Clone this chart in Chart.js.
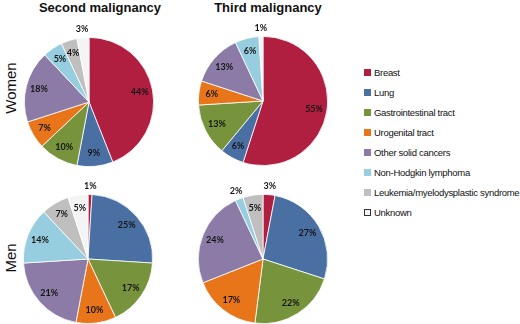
<!DOCTYPE html>
<html>
<head>
<meta charset="utf-8">
<script src="https://cdn.jsdelivr.net/npm/chart.js@4.4.1/dist/chart.umd.min.js"></script>
<style>
  body { margin: 0; background: #fff; font-family: "Liberation Sans", Arial, sans-serif; }
  #wrap { position: relative; width: 520px; height: 324px; overflow: hidden; }
  canvas { position: absolute; }
  .title { position: absolute; top: 0; font-size: 13px; font-weight: bold; color: #111; white-space: nowrap; transform: translateX(-50%); }
  .row { position: absolute; font-size: 15px; color: #111; transform: translate(-50%, -50%) rotate(-90deg); white-space: nowrap; }
  #legend { position: absolute; left: 364px; top: 66px; font-size: 9.5px; letter-spacing: -0.3px; color: #111; }
  #legend div { height: 20px; line-height: 14px; white-space: nowrap; }
  #legend span { display: inline-block; width: 7px; height: 7px; margin-right: 3px; vertical-align: 0px; box-sizing: border-box; }
</style>
</head>
<body>
<div id="wrap">
  <div class="title" style="left:100px">Second malignancy</div>
  <div class="title" style="left:268px">Third malignancy</div>
  <div class="row" style="left:10px; top:88px">Women</div>
  <div class="row" style="left:10px; top:258px">Men</div>
  <canvas id="w2" width="170" height="170" style="left:4px; top:17px"></canvas>
  <canvas id="w3" width="170" height="170" style="left:178px; top:16px"></canvas>
  <canvas id="m2" width="170" height="170" style="left:3px; top:174px"></canvas>
  <canvas id="m3" width="170" height="170" style="left:178px; top:174px"></canvas>
  <div id="legend"></div>
</div>
<script>
  // categorias (ordem horaria a partir do topo)
  const categorias = ['Breast', 'Lung', 'Gastrointestinal tract', 'Urogenital tract',
    'Other solid cancers', 'Non-Hodgkin lymphoma', 'Leukemia/myelodysplastic syndrome', 'Unknown'];
  const cores = ['#B01F40', '#4A6FA3', '#77933C', '#E8751A', '#8B7BA6', '#96CEDF', '#BFBFBF', '#F4F4F4'];

  // porcentagens
  const mulheresSegunda = [44, 9, 10, 7, 18, 5, 4, 3];
  const mulheresTerceira = [55, 6, 13, 6, 13, 6, 0, 1];
  const homensSegunda = [1, 25, 17, 10, 21, 14, 7, 5];
  const homensTerceira = [3, 27, 22, 17, 24, 2, 5, 0];

  // rotulos de porcentagem (pequenos ficam fora da pizza)
  const rotulos = {
    id: 'rotulos',
    afterDatasetsDraw(chart) {
      const ctx = chart.ctx;
      const valores = chart.data.datasets[0].data;
      ctx.save();
      ctx.font = 'bold 9px Lato, "Liberation Sans", sans-serif';
      ctx.fillStyle = '#151515';
      ctx.textAlign = 'center';
      ctx.textBaseline = 'middle';
      chart.getDatasetMeta(0).data.forEach((arc, i) => {
        const v = valores[i];
        if (!v) return;
        const p = arc.getProps(['x', 'y', 'startAngle', 'endAngle', 'outerRadius'], true);
        const meio = (p.startAngle + p.endAngle) / 2;
        const r = v <= 3 ? p.outerRadius * 1.13 : p.outerRadius * 0.8;
        ctx.fillText(v + '%', p.x + Math.cos(meio) * r, p.y + Math.sin(meio) * r);
      });
      ctx.restore();
    }
  };

  function desenhaPizza(id, valores) {
    new Chart(document.getElementById(id), {
      type: 'pie',
      data: {
        labels: categorias,
        datasets: [{
          data: valores,
          backgroundColor: cores,
          borderColor: '#ffffff',
          borderWidth: 0.8
        }]
      },
      options: {
        responsive: false,
        animation: false,
        layout: { padding: 20 },
        plugins: { legend: { display: false }, tooltip: { enabled: false } }
      },
      plugins: [rotulos]
    });
  }

  desenhaPizza('w2', mulheresSegunda);
  desenhaPizza('w3', mulheresTerceira);
  desenhaPizza('m2', homensSegunda);
  desenhaPizza('m3', homensTerceira);

  // legenda
  const legenda = document.getElementById('legend');
  categorias.forEach((nome, i) => {
    const linha = document.createElement('div');
    const quadrado = document.createElement('span');
    quadrado.style.background = cores[i];
    if (nome === 'Unknown') quadrado.style.border = '1px solid #333';
    linha.appendChild(quadrado);
    linha.appendChild(document.createTextNode(nome));
    legenda.appendChild(linha);
  });
</script>
</body>
</html>
